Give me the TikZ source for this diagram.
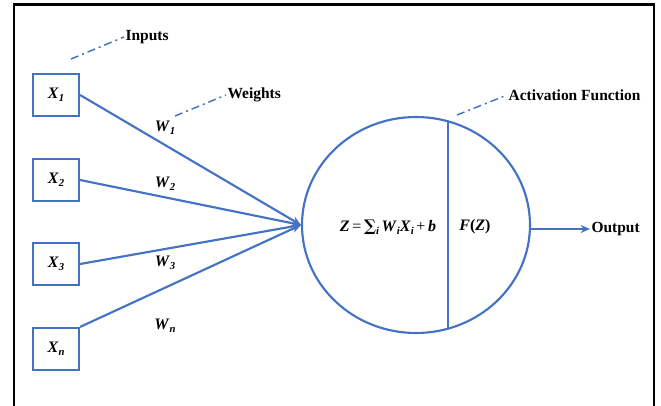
\documentclass[tikz,border=0pt]{standalone}
\usepackage{fontspec}
\setmainfont{Liberation Serif}
\newfontfamily\symfont{DejaVu Serif}
\usetikzlibrary{shapes.geometric,arrows.meta}
\definecolor{nblue}{RGB}{68,114,196}
\newcommand\bi[1]{\textbf{\textit{#1}}}
\newcommand\bsub[2]{\bi{#1}\raisebox{-0.45ex}{\footnotesize\bi{#2}}}
\newcommand\zform{\bi{Z}\,=\,{\symfont\bfseries ∑}\raisebox{-0.45ex}{\footnotesize\bi{i}}\,\bsub{W}{i}\bsub{X}{i}\,+\,\bi{b}}
\newcommand\fzform{\bi{F}\textbf{(}\bi{Z}\textbf{)}}
\begin{document}
\begin{tikzpicture}[x=0.75pt,y=-0.75pt,
  every node/.style={font=\fontsize{12}{14}\selectfont},
  inbox/.style={draw=nblue,line width=1.6pt,minimum width=34.5pt,minimum height=31.5pt,inner sep=0pt},
  conn/.style={draw=nblue,line width=1.6pt,-{Stealth[length=7pt,width=6pt]}},
  callout/.style={draw=nblue,line width=1.1pt,dash pattern=on 6pt off 3pt on 1.5pt off 3pt},
  lbl/.style={font=\fontsize{11.6}{14}\selectfont\bfseries,inner sep=1pt},
  wlbl/.style={inner sep=0pt}]
\useasboundingbox (0,0) rectangle (661,405);
\draw[line width=1.6pt] (14,406) -- (14,4.5) -- (654,4.5) -- (654,406);
% inputs
\node[inbox] (x1) at (56,95) {\bsub{X}{1}};
\node[inbox] (x2) at (56,180) {\bsub{X}{2}};
\node[inbox] (x3) at (56,264) {\bsub{X}{3}};
\node[inbox] (xn) at (56,349) {\bsub{X}{n}};
% neuron
\node[ellipse,draw=nblue,line width=1.6pt,minimum width=171pt,minimum height=162pt,inner sep=0pt] (neuron) at (416,225) {};
\coordinate (vt) at (448,121.3);
\coordinate (vb) at (448,328.7);
\draw[nblue,line width=1.6pt] (vt) -- (vb);
\node[inner sep=0pt] (zf) at (388,227) {\zform};
\node[inner sep=0pt] (fz) at (475,227) {\fzform};
% connections
\draw[conn] (x1.east) -- (neuron.west);
\draw[conn] (x2.east) -- (neuron.west);
\draw[conn] (x3.east) -- (neuron.west);
\draw[conn] (xn.north east) -- (neuron.west);
% weights
\node[wlbl] (w1) at (165,128) {\bsub{W}{1}};
\node[wlbl] (w2) at (165,184) {\bsub{W}{2}};
\node[wlbl] (w3) at (165,263) {\bsub{W}{3}};
\node[wlbl] (wn) at (165,326) {\bsub{W}{n}};
% output
\node[lbl,anchor=west] (out) at (590,229) {Output};
\draw[conn] (neuron.east |- out.west) -- (out.west);
% callouts
\node[lbl,anchor=west] (inputs) at (124,37) {Inputs};
\coordinate (ci) at (71,59);
\draw[callout] (ci) -- (inputs.west);
\node[lbl,anchor=west] (weights) at (226,95) {Weights};
\coordinate (cw) at (175,116);
\draw[callout] (cw) -- (weights.west);
\node[lbl,anchor=west] (act) at (507,95) {Activation Function};
\coordinate (ca) at (457,115);
\draw[callout] (ca) -- (act.west);
\end{tikzpicture}
\end{document}
